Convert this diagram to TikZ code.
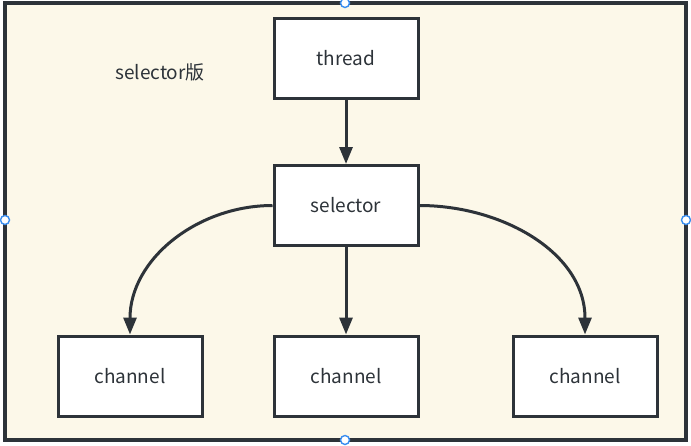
\documentclass[tikz,border=0pt]{standalone}
\usepackage{fontspec}
\setmainfont{Noto Sans CJK SC}
\usetikzlibrary{arrows.meta}
\definecolor{framecol}{HTML}{2D3339}
\definecolor{creamcol}{HTML}{FCF8E9}
\definecolor{handlecol}{HTML}{3A8EF0}
\tikzset{
  box/.style={draw=framecol, line width=3pt, fill=white, minimum width=144pt, minimum height=80pt, font=\fontsize{19}{22}\selectfont, text=framecol},
  link/.style={-{Triangle[length=17pt,width=13pt]}, line width=3pt, draw=framecol},
  handle/.style={draw=handlecol, fill=white, line width=1.4pt, circle, inner sep=0pt, minimum size=9pt}
}
\begin{document}
\begin{tikzpicture}[x=1pt,y=-1pt]
\useasboundingbox (0,0) rectangle (691,445);
\draw[draw=framecol, fill=creamcol, line width=3.5pt] (5,3) rectangle (686,440);
\node[font=\fontsize{19}{22}\selectfont, text=framecol] (title) at (160,72) {selector版};
\node[box] (thread) at (346,58.5) {thread};
\node[box] (sel) at (346,205.5) {selector};
\node[box] (chl) at (130,376) {channel};
\node[box] (chm) at (346,376) {channel};
\node[box] (chr) at (585,376) {channel};
\draw[link] (thread) -- (sel);
\draw[link] (sel) -- (chm);
\draw[link] (sel.west) to[out=180,in=90] (chl.north);
\draw[link] (sel.east) to[out=0,in=90] (chr.north);
% selection handles
\node[handle] (h1) at (345,3) {};
\node[handle] (h2) at (5,220) {};
\node[handle] (h3) at (686,220) {};
\node[handle] (h4) at (345,440) {};
\end{tikzpicture}
\end{document}
